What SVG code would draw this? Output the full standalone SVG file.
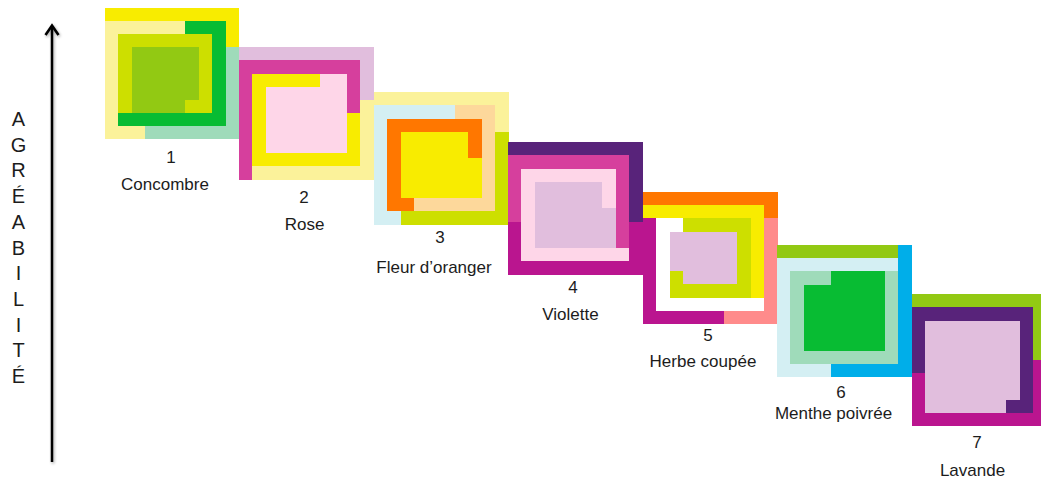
<svg xmlns="http://www.w3.org/2000/svg" width="1041" height="479" viewBox="0 0 1041 479">
<defs>
<style>
rect{shape-rendering:crispEdges}
.yel{fill:#F8EC00}.lyel{fill:#FBF29A}.mint{fill:#9FDBBA}.dgrn{fill:#08BC33}
.ygrn{fill:#CDDF00}.lime{fill:#92C913}.lav{fill:#E1BEDD}.hpink{fill:#D63F9D}
.lpink{fill:#FED6E8}.lblue{fill:#D4EFF3}.peach{fill:#FDD89B}.org{fill:#FF7700}
.dpur{fill:#58237A}.mag{fill:#BA158F}.salm{fill:#FF8B8B}.cyan{fill:#00AEE9}.wht{fill:#FFFFFF}
text{font-family:"Liberation Sans",Arial,Helvetica,sans-serif;fill:#1c1c1c}
.lbl{font-size:17px;text-anchor:middle}
.ax{font-size:20px;text-anchor:middle}
</style>
<filter id="sh" x="-50%" y="-5%" width="200%" height="110%">
<feGaussianBlur stdDeviation="1.5"/>
</filter>
</defs>
<rect width="1041" height="479" fill="#FFFFFF"/>

<g id="axis">
<g opacity="0.35" filter="url(#sh)" transform="translate(1,1.5)">
<line x1="52" y1="26" x2="52" y2="462" stroke="#000" stroke-width="2.5"/>
<polyline points="45.5,35 52,25.5 58.5,35" fill="none" stroke="#000" stroke-width="2.5"/>
</g>
<line x1="52" y1="26" x2="52" y2="462" stroke="#000" stroke-width="2.5"/>
<polyline points="45.5,35 52,25.5 58.5,35" fill="none" stroke="#000" stroke-width="2.6" stroke-linejoin="miter"/>
<text class="ax" x="18.5" y="126">A</text>
<text class="ax" x="18.5" y="151.7">G</text>
<text class="ax" x="18.5" y="177.4">R</text>
<text class="ax" x="18.5" y="203.1">É</text>
<text class="ax" x="18.5" y="228.8">A</text>
<text class="ax" x="18.5" y="254.5">B</text>
<text class="ax" x="18.5" y="280.2">I</text>
<text class="ax" x="18.5" y="305.9">L</text>
<text class="ax" x="18.5" y="331.6">I</text>
<text class="ax" x="18.5" y="357.3">T</text>
<text class="ax" x="18.5" y="383">É</text>
</g>

<g id="connectors"></g>

<g id="node-1">
<g transform="translate(105,8) scale(13.4,13.13)">
<rect class="lyel" width="10" height="10"/>
<rect class="yel" x="0" y="0" width="10" height="1"/>
<rect class="yel" x="9" y="0" width="1" height="3"/>
<rect class="mint" x="9" y="3" width="1" height="7"/>
<rect class="mint" x="3" y="9" width="7" height="1"/>
<rect class="dgrn" x="6" y="1" width="3" height="1"/>
<rect class="dgrn" x="8" y="1" width="1" height="8"/>
<rect class="dgrn" x="1" y="8" width="8" height="1"/>
<rect class="ygrn" x="1" y="2" width="7" height="6"/>
<rect class="lime" x="2" y="3" width="5" height="5"/>
<rect class="ygrn" x="6" y="7" width="1" height="1"/>
</g>
<text class="lbl" x="171" y="163">1</text>
<text class="lbl" x="165" y="189.5">Concombre</text>
</g>

<g id="node-2">
<g transform="translate(239,47) scale(13.45,13.27)">
<rect class="lyel" width="10" height="10"/>
<rect class="lav" x="0" y="0" width="10" height="1"/>
<rect class="lav" x="9" y="0" width="1" height="4"/>
<rect class="hpink" x="0" y="1" width="9" height="1"/>
<rect class="hpink" x="0" y="1" width="1" height="9"/>
<rect class="hpink" x="8" y="1" width="1" height="4"/>
<rect class="yel" x="1" y="2" width="7" height="7"/>
<rect class="yel" x="8" y="5" width="1" height="4"/>
<rect class="lpink" x="2" y="2" width="6" height="6"/>
<rect class="yel" x="2" y="2" width="4" height="1"/>
</g>
<text class="lbl" x="304" y="203">2</text>
<text class="lbl" x="304.5" y="230">Rose</text>
</g>

<g id="node-3">
<g transform="translate(374,92) scale(13.45,13.27)">
<rect class="lblue" width="10" height="10"/>
<rect class="lyel" x="0" y="0" width="10" height="1"/>
<rect class="lyel" x="9" y="0" width="1" height="3"/>
<rect class="ygrn" x="9" y="3" width="1" height="7"/>
<rect class="ygrn" x="2" y="9" width="8" height="1"/>
<rect class="org" x="1" y="2" width="7" height="7"/>
<rect class="peach" x="6" y="1" width="3" height="1"/>
<rect class="peach" x="8" y="1" width="1" height="8"/>
<rect class="peach" x="3" y="8" width="6" height="1"/>
<rect class="yel" x="2" y="3" width="6" height="5"/>
<rect class="org" x="7" y="3" width="1" height="2"/>
</g>
<text class="lbl" x="440" y="243">3</text>
<text class="lbl" x="434" y="273">Fleur d’oranger</text>
</g>

<g id="node-4">
<g transform="translate(508,142) scale(13.45,13.27)">
<rect class="mag" width="10" height="10"/>
<rect class="dpur" x="0" y="0" width="10" height="1"/>
<rect class="dpur" x="9" y="0" width="1" height="6"/>
<rect class="hpink" x="0" y="1" width="9" height="1"/>
<rect class="hpink" x="0" y="1" width="1" height="5"/>
<rect class="hpink" x="8" y="1" width="1" height="7"/>
<rect class="lpink" x="1" y="2" width="7" height="6"/>
<rect class="lpink" x="1" y="8" width="8" height="1"/>
<rect class="lav" x="2" y="3" width="6" height="5"/>
<rect class="lpink" x="7" y="3" width="1" height="2"/>
</g>
<text class="lbl" x="573" y="292.5">4</text>
<text class="lbl" x="570.5" y="320">Violette</text>
</g>

<g id="node-5">
<g transform="translate(643,192) scale(13.45,13.2)">
<rect class="wht" width="10" height="10"/>
<rect class="mag" x="0" y="2" width="1" height="8"/>
<rect class="mag" x="0" y="9" width="6" height="1"/>
<rect class="salm" x="9" y="2" width="1" height="8"/>
<rect class="salm" x="6" y="9" width="4" height="1"/>
<rect class="org" x="0" y="0" width="10" height="1"/>
<rect class="org" x="9" y="0" width="1" height="2"/>
<rect class="yel" x="0" y="1" width="9" height="1"/>
<rect class="yel" x="8" y="1" width="1" height="7"/>
<rect class="ygrn" x="3" y="2" width="5" height="1"/>
<rect class="ygrn" x="2" y="3" width="6" height="5"/>
<rect class="lav" x="2" y="3" width="5" height="3"/>
<rect class="lav" x="3" y="6" width="4" height="1"/>
</g>
<text class="lbl" x="708" y="341">5</text>
<text class="lbl" x="703" y="367">Herbe coupée</text>
</g>

<g id="node-6">
<g transform="translate(777,245) scale(13.45,13.2)">
<rect class="lblue" width="10" height="10"/>
<rect class="lime" x="0" y="0" width="9" height="1"/>
<rect class="cyan" x="9" y="0" width="1" height="10"/>
<rect class="cyan" x="4" y="9" width="6" height="1"/>
<rect class="mint" x="1" y="2" width="8" height="7"/>
<rect class="dgrn" x="2" y="3" width="6" height="5"/>
<rect class="dgrn" x="4" y="2" width="4" height="1"/>
</g>
<text class="lbl" x="841" y="398">6</text>
<text class="lbl" x="833.5" y="419">Menthe poivrée</text>
</g>

<g id="node-7">
<g transform="translate(912,294.3) scale(13.45,13.17)">
<rect class="mag" width="10" height="10"/>
<rect class="lime" x="0" y="0" width="10" height="1"/>
<rect class="lime" x="9" y="0" width="1" height="5"/>
<rect class="dpur" x="0" y="1" width="9" height="5"/>
<rect class="dpur" x="1" y="6" width="8" height="3"/>
<rect class="lav" x="1" y="2" width="7" height="7"/>
<rect class="dpur" x="7" y="8" width="1" height="1"/>
</g>
<text class="lbl" x="977" y="447.5">7</text>
<text class="lbl" x="972.5" y="476">Lavande</text>
</g>
</svg>
